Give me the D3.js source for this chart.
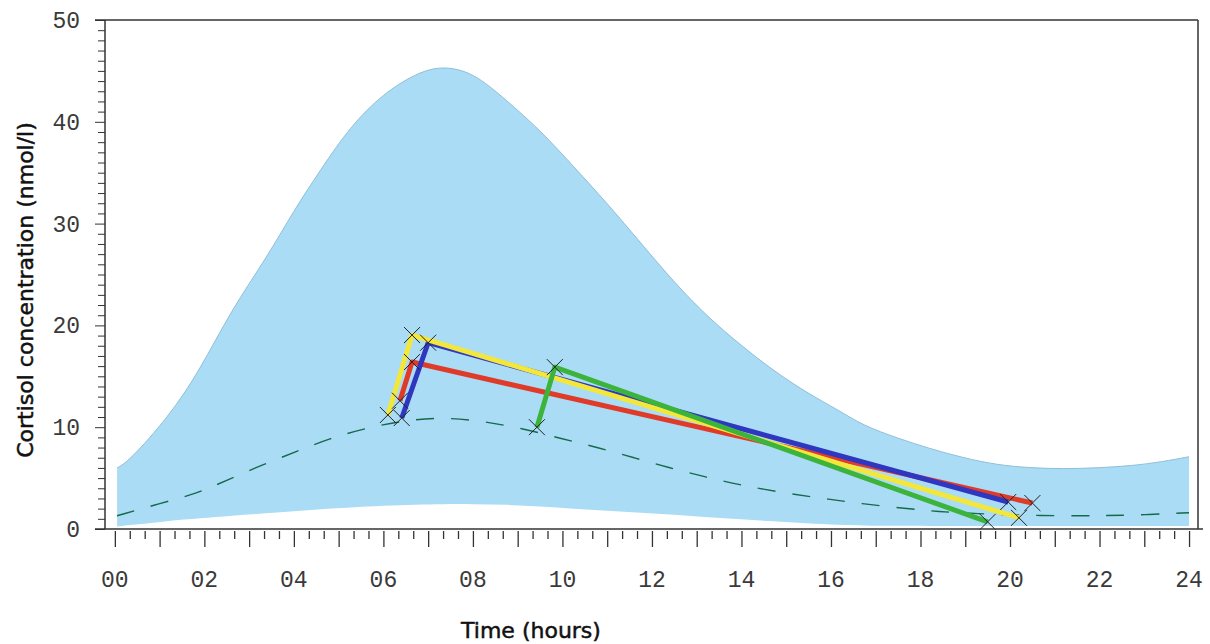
<!DOCTYPE html>
<html><head><meta charset="utf-8">
<script src="https://cdn.jsdelivr.net/npm/d3@7/dist/d3.min.js"></script>
<style>body{margin:0;background:#fff}svg{display:block}</style>
</head><body>
<svg id="c" width="1210" height="644"></svg>
<script>
// ---- data ----
const bandT = [0.05,0.3,1.2,1.9,2.6,3.4,4.0,4.6,5.25,6.0,6.75,7.3,8.0,8.75,9.5,10.25,11.0,11.75,12.5,13.25,14.0,14.7,15.45,16.2,16.7,17.5,18.2,18.95,19.7,20.45,21.2,21.95,22.7,23.4,24.0];
const upper = [6.0,6.6,11.0,15.6,21.5,26.7,31.3,35.3,39.5,42.8,44.8,45.5,44.9,42.1,39.2,35.6,32.0,28.1,24.2,20.8,18.0,15.6,13.4,11.6,10.2,8.9,7.9,7.0,6.3,6.0,5.9,6.0,6.2,6.6,7.1];
const lower = [0.25,0.35,0.8,1.05,1.3,1.55,1.75,1.95,2.1,2.3,2.4,2.45,2.45,2.4,2.2,2.0,1.8,1.6,1.4,1.15,0.95,0.75,0.55,0.4,0.35,0.3,0.3,0.3,0.3,0.3,0.3,0.3,0.3,0.3,0.3];
const medT = [0.05,1.0,1.85,2.5,3.3,4.05,4.8,5.6,6.4,7.3,8.2,9.1,9.95,10.8,11.6,12.4,13.2,14.0,15.0,16.0,16.65,17.6,18.4,19.3,20.2,21.2,22.1,23.0,24.0];
const median = [1.3,2.5,3.5,4.8,6.3,7.6,8.9,9.9,10.6,11.0,10.6,9.9,8.9,8.0,7.0,6.0,5.1,4.3,3.5,2.9,2.5,2.05,1.7,1.5,1.35,1.3,1.3,1.4,1.6];
const subjectNames = ["red","blue","yellow","green"];
const subjectTimes = [[6.37,6.64,20.5],[6.41,7.0,19.96],[6.1,6.64,20.2],[9.43,9.83,19.5]];
const subjectValues = [[12.6,16.4,2.55],[10.9,18.3,2.65],[11.2,19.05,1.1],[10.0,15.9,0.7]];
const subjectColors = ["#e03a28","#2f36c0","#f2e73a","#3cb43c"];
const xTickLabels = ["00","02","04","06","08","10","12","14","16","18","20","22","24"];
const yTickLabels = [0,10,20,30,40,50];
const xTitle = "Time (hours)";
const yTitle = "Cortisol concentration (nmol/l)";

// ---- scales ----
const svg = d3.select("#c");
const x = d3.scaleLinear().domain([-0.22,24.2]).range([105,1198]);
const y = d3.scaleLinear().domain([0,50]).range([529,20]);

// band
const band = bandT.map((t,i)=>({t,u:upper[i],l:lower[i]}));
svg.append("path").datum(band)
  .attr("fill","#abdcf5")
  .attr("d",d3.area().curve(d3.curveBasis).x(d=>x(d.t)).y0(d=>y(d.l)).y1(d=>y(d.u)));
svg.append("path").datum(band)
  .attr("fill","none").attr("stroke","#8fbfd8").attr("stroke-width",1)
  .attr("d",d3.line().curve(d3.curveBasis).x(d=>x(d.t)).y(d=>y(d.u)));

// median dashed
svg.append("path").datum(medT.map((t,i)=>({t,v:median[i]})))
  .attr("fill","none").attr("stroke","#16694a").attr("stroke-width",1.4)
  .attr("stroke-dasharray","18,17")
  .attr("d",d3.line().curve(d3.curveBasis).x(d=>x(d.t)).y(d=>y(d.v)));

// subjects
const line = d3.line().x(d=>x(d.t)).y(d=>y(d.v));
subjectNames.forEach((n,k)=>{
  const pts = subjectTimes[k].map((t,i)=>({t,v:subjectValues[k][i]}));
  svg.append("path").datum(pts).attr("fill","none")
    .attr("stroke",subjectColors[k]).attr("stroke-width",5)
    .attr("stroke-linejoin","round").attr("d",line);
});
subjectNames.forEach((n,k)=>{
  const pts = subjectTimes[k].map((t,i)=>({t,v:subjectValues[k][i]}));
  svg.append("g").selectAll("path").data(pts).join("path")
    .attr("fill","none").attr("stroke","#222").attr("stroke-width",1)
    .attr("d",d=>{const cx=x(d.t),cy=y(d.v),s=8;return `M${cx-s},${cy-s}L${cx+s},${cy+s}M${cx-s},${cy+s}L${cx+s},${cy-s}`;});
});

// frame
const fc="#333";
svg.append("line").attr("x1",95).attr("x2",1198).attr("y1",y(50)).attr("y2",y(50)).attr("stroke",fc).attr("stroke-width",1.5);
svg.append("line").attr("x1",x(24.2)).attr("x2",x(24.2)).attr("y1",y(50)).attr("y2",y(0)).attr("stroke",fc).attr("stroke-width",1.5);

// y axis
const yAxis = d3.axisLeft(y).tickValues(d3.range(0,51,1)).tickSize(7).tickFormat("");
const gy = svg.append("g").attr("transform","translate(105,0)").call(yAxis);
gy.selectAll(".tick line").attr("stroke",fc).attr("x2",d=>d%10===0?-10:-7);
gy.select(".domain").attr("stroke",fc).attr("stroke-width",1.5).attr("d",`M0,${y(0)}V${y(50)}`);
svg.append("g").selectAll("text").data(yTickLabels).join("text")
  .attr("x",80).attr("y",d=>y(d)).attr("dy","0.35em").attr("text-anchor","end")
  .attr("font-family","Liberation Mono").attr("font-size",23).attr("fill","#3a3a3a").text(d=>d);

// x axis
const xAxis = d3.axisBottom(x).tickValues(d3.range(0,24.01,1/3)).tickSize(8).tickFormat("");
const gx = svg.append("g").attr("transform",`translate(0,${y(0)})`).call(xAxis);
gx.selectAll(".tick line").attr("stroke",fc).attr("stroke-width",1.3)
  .attr("y1",2).attr("y2",(d,i)=>i%3===0?18:10);
gx.select(".domain").attr("stroke",fc).attr("stroke-width",1.5).attr("d","M95,0H1203");
svg.append("g").selectAll("text").data(xTickLabels).join("text")
  .attr("x",d=>x(+d)).attr("y",587).attr("text-anchor","middle")
  .attr("font-family","Liberation Mono").attr("font-size",23).attr("fill","#3a3a3a").text(d=>d);

// titles
svg.append("text").attr("x",531).attr("y",638).attr("text-anchor","middle")
  .attr("font-family","DejaVu Sans").attr("font-size",22).attr("fill","#111")
  .attr("stroke","#111").attr("stroke-width",0.5).text(xTitle);
svg.append("text").attr("transform","translate(33,290) rotate(-90)").attr("text-anchor","middle")
  .attr("font-family","DejaVu Sans").attr("font-size",22).attr("fill","#111")
  .attr("stroke","#111").attr("stroke-width",0.5).text(yTitle);
</script>
</body></html>
